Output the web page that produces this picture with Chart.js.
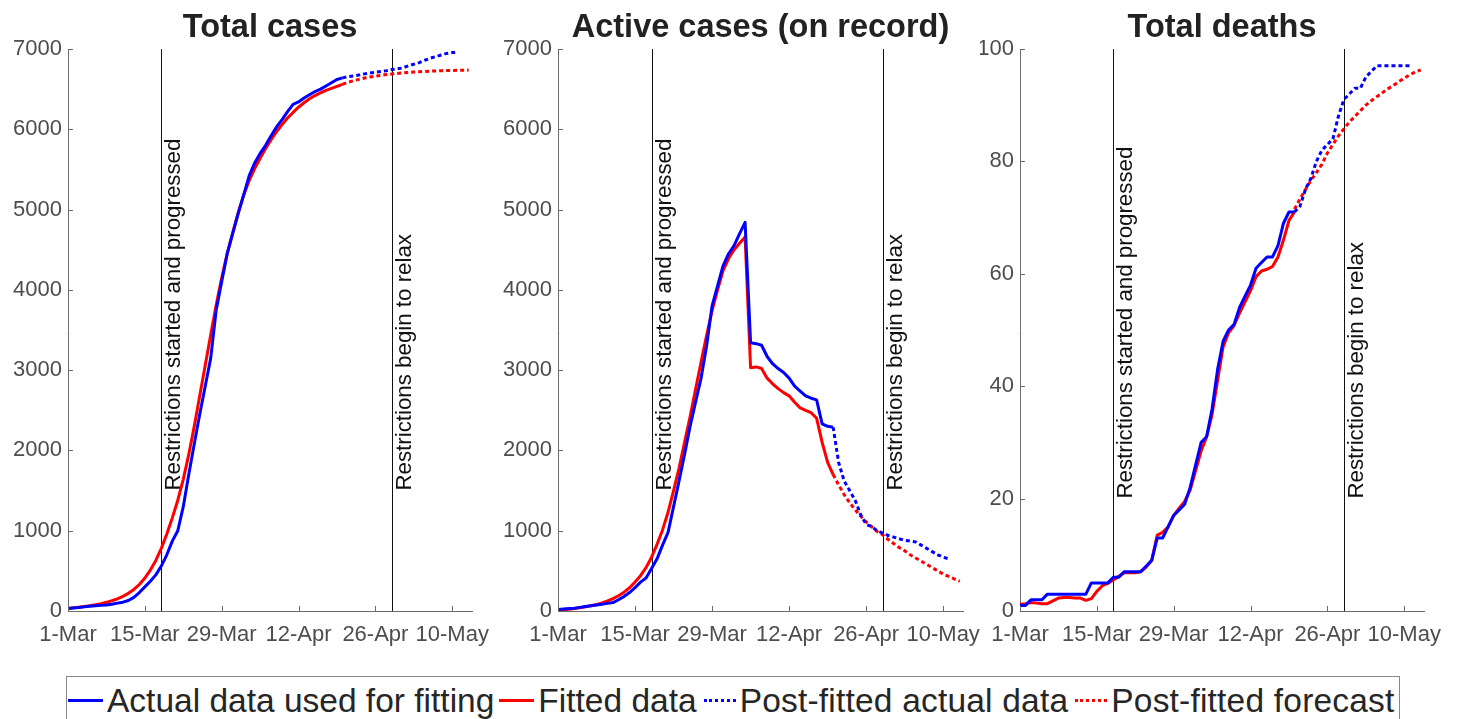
<!DOCTYPE html>
<html lang="en">
<head>
<meta charset="UTF-8">
<title>Cases, active cases and deaths</title>
<script src="https://cdn.jsdelivr.net/npm/chart.js@4.4.0/dist/chart.umd.min.js"></script>
<style>
body {
margin: 0;
background: #fff;
width: 1460px;
height: 719px;
overflow: hidden;
position: relative;
font-family: 'Liberation Sans', Arial, sans-serif;
}
.pane {
position: absolute;
top: 0;
height: 660px;
}
.legend {
position: absolute;
left: 66px;
top: 676px;
width: 1334px;
height: 60px;
border: 1px solid #8a8a8a;
box-sizing: border-box;
padding-top: 5px;
display: flex;
align-items: flex-start;
font-size: 33.5px;
line-height: 38px;
color: #262626;
white-space: nowrap;
}
.legend .wide {
letter-spacing: 0.2px;
}
.sample {
display: inline-block;
width: 35px;
margin: 17px 4px 0 1px;
border-top: 3px solid;
}
.sample.dot {
width: 32px;
border-top-style: dotted;
margin-left: 7px;
}
</style>
</head>
<body>
<div class="pane" style="left:0;width:490px"><canvas id="casesChart"></canvas></div>
<div class="pane" style="left:490px;width:490px"><canvas id="activeChart"></canvas></div>
<div class="pane" style="left:980px;width:480px"><canvas id="deathsChart"></canvas></div>
<div class="legend">
<span class="sample" style="color:#0000ff"></span><span>Actual data used for fitting</span>
<span class="sample" style="color:#ff0000;margin-left:5px"></span><span>Fitted data</span>
<span class="sample dot" style="color:#0000ff"></span><span class="wide">Post-fitted actual data</span>
<span class="sample dot" style="color:#ff0000"></span><span class="wide">Post-fitted forecast</span>
</div>
<script>
// x axis: days since 1-Mar
const tickDays = [0, 14, 28, 42, 56, 70];
const tickLabels = ['1-Mar', '15-Mar', '29-Mar', '12-Apr', '26-Apr', '10-May'];
const eventDays = [17, 59];
const eventLabels = ['Restrictions started and progressed', 'Restrictions begin to relax'];
const fitStart = 0;   // fitted window starts on day 0
const postStart = 50; // post-fit data starts on day 50 (20-Apr)

// Total cases
const casesActual = [30, 38, 45, 52, 58, 64, 70, 76, 85, 98,
  110, 130, 170, 230, 300, 370, 450, 560, 700, 870,
  1000, 1300, 1700, 2080, 2450, 2800, 3150, 3750, 4100, 4450,
  4700, 4950, 5180, 5420, 5580, 5700, 5800, 5920, 6030, 6120,
  6220, 6310, 6340, 6390, 6430, 6470, 6500, 6540, 6580, 6620, 6640];
const casesFitted = [30, 40, 48, 57, 67, 78, 92, 108, 128, 152,
  182, 220, 268, 330, 410, 510, 630, 780, 960, 1160,
  1380, 1640, 1950, 2300, 2680, 3060, 3440, 3810, 4150, 4450,
  4710, 4960, 5180, 5360, 5510, 5640, 5760, 5870, 5970, 6060,
  6140, 6210, 6275, 6330, 6380, 6420, 6455, 6485, 6510, 6535, 6560];
const casesPostActual = [6640, 6655, 6665, 6675, 6690, 6700, 6710, 6720, 6730, 6745, 6752,
  6765, 6790, 6810, 6830, 6860, 6885, 6905, 6925, 6945, 6955, 6960];
const casesForecast = [6560, 6585, 6605, 6622, 6638, 6651, 6662, 6672, 6681, 6689, 6696, 6702,
  6708, 6713, 6717, 6721, 6724, 6727, 6729, 6731, 6733, 6735, 6736, 6737];

// Active cases (on record)
const activeActual = [20, 25, 30, 35, 45, 55, 65, 75, 85, 95,
  105, 140, 180, 230, 290, 360, 410, 530, 650, 820,
  980, 1300, 1620, 1950, 2300, 2600, 2900, 3300, 3800, 4050,
  4300, 4450, 4550, 4700, 4840, 3340, 3330, 3310, 3170, 3080,
  3020, 2970, 2900, 2800, 2740, 2680, 2650, 2630, 2330, 2300, 2290];
const activeFitted = [10, 15, 22, 30, 40, 52, 65, 80, 100, 125,
  155, 190, 235, 290, 360, 440, 540, 670, 830, 1010,
  1230, 1500, 1780, 2100, 2420, 2760, 3100, 3430, 3740, 4000,
  4240, 4390, 4500, 4580, 4660, 3030, 3040, 3020, 2900, 2830,
  2770, 2720, 2680, 2600, 2530, 2500, 2470, 2400, 2100, 1850, 1700];
const activePostActual = [2290, 1850, 1620, 1500, 1380, 1200, 1080, 1050, 1000, 970, 940,
  920, 900, 880, 870, 860, 820, 780, 740, 700, 670, 650];
const activeForecast = [1700, 1570, 1450, 1350, 1260, 1180, 1110, 1050, 990, 950, 890, 840,
  790, 750, 700, 660, 620, 580, 540, 500, 460, 430, 400, 370];

// Total deaths
const deathsActual = [1, 1, 2, 2, 2, 3, 3, 3, 3, 3,
  3, 3, 3, 5, 5, 5, 5, 6, 6, 7,
  7, 7, 7, 8, 9, 13, 13, 15, 17, 18,
  19, 22, 26, 30, 31, 36, 43, 48, 50, 51,
  54, 56, 58, 61, 62, 63, 63, 65, 69, 71, 71];
const deathsFitted = [1.2, 1.3, 1.5, 1.4, 1.3, 1.3, 1.8, 2.3, 2.4, 2.4,
  2.3, 2.3, 1.9, 2.2, 3.5, 4.5, 4.9, 5.5, 6.2, 6.8,
  6.8, 6.8, 7.0, 7.8, 9.0, 13.5, 14.0, 15.0, 17.0, 18.3,
  19.5, 21.5, 25, 28.5, 31, 35, 41, 47, 49.5, 50.8,
  53, 55, 57, 59.5, 60.5, 60.8, 61.3, 63, 66, 69.5, 71];
const deathsPostActual = [71, 72, 75, 77, 80, 82, 83, 84, 88, 91, 92,
  93, 93, 95, 96, 97, 97, 97, 97, 97, 97, 97];
const deathsForecast = [71.5, 73.3, 75, 76.6, 78, 79.5, 81.5, 83, 84.5, 85.8, 87, 88,
  89, 90, 90.8, 91.5, 92.2, 92.9, 93.5, 94.2, 94.8, 95.4, 95.9, 96.3];

const FONT = "'Liberation Sans', Arial, sans-serif";
const AXIS = '#6b6b6b';
Chart.defaults.font.family = FONT;

function toPoints(start, values) {
  return values.map((v, i) => ({x: start + i, y: v}));
}

// title centred over the plot area
const plotTitle = {
  id: 'plotTitle',
  afterDraw(chart, args, opts) {
    const {ctx, chartArea: a} = chart;
    ctx.save();
    ctx.font = 'bold 32.5px ' + FONT;
    ctx.fillStyle = '#222';
    ctx.textAlign = 'center';
    ctx.textBaseline = 'alphabetic';
    ctx.fillText(opts.text, (a.left + a.right) / 2, a.top - 12);
    ctx.restore();
  }
};

// vertical event lines with rotated labels
const eventLines = {
  id: 'eventLines',
  beforeDatasetsDraw(chart, args, opts) {
    const {ctx, chartArea: a, scales: {x, y}} = chart;
    ctx.save();
    ctx.strokeStyle = '#111';
    ctx.lineWidth = 1;
    ctx.fillStyle = '#111';
    ctx.font = '22.3px ' + FONT;
    eventDays.forEach((d, i) => {
      const px = Math.round(x.getPixelForValue(d)) + 0.5;
      ctx.beginPath();
      ctx.moveTo(px, a.top);
      ctx.lineTo(px, a.bottom);
      ctx.stroke();
      ctx.save();
      ctx.translate(px + 1, y.getPixelForValue(opts.labelY));
      ctx.rotate(-Math.PI / 2);
      ctx.textAlign = 'left';
      ctx.textBaseline = 'top';
      ctx.fillText(eventLabels[i], 0, 0);
      ctx.restore();
    });
    ctx.restore();
  }
};

// MATLAB style ticks pointing into the plot
const inwardTicks = {
  id: 'inwardTicks',
  afterDraw(chart) {
    const {ctx, chartArea: a, scales: {x, y}} = chart;
    ctx.save();
    ctx.strokeStyle = AXIS;
    ctx.lineWidth = 1;
    ctx.beginPath();
    x.ticks.forEach(t => {
      const px = Math.round(x.getPixelForValue(t.value)) + 0.5;
      ctx.moveTo(px, a.bottom);
      ctx.lineTo(px, a.bottom - 5);
    });
    y.ticks.forEach(t => {
      const py = Math.round(y.getPixelForValue(t.value)) + 0.5;
      ctx.moveTo(a.left, py);
      ctx.lineTo(a.left + 5, py);
    });
    ctx.stroke();
    ctx.restore();
  }
};

function lineSet(label, data, color, dotted) {
  return {
    label: label,
    data: data,
    borderColor: color,
    borderWidth: 3,
    borderDash: dotted ? [4, 3] : [],
    borderJoinStyle: 'round',
    pointRadius: 0,
    tension: 0,
    fill: false
  };
}

function createChart(canvasId, title, series, yMax, yStep, labelY, yWidth, padRight) {
  const ctx = document.getElementById(canvasId).getContext('2d');
  return new Chart(ctx, {
    type: 'line',
    data: {
      datasets: [
        lineSet('Actual data used for fitting', toPoints(fitStart, series[0]), '#0000ff', false),
        lineSet('Fitted data', toPoints(fitStart, series[1]), '#ff0000', false),
        lineSet('Post-fitted actual data', toPoints(postStart, series[2]), '#0000ff', true),
        lineSet('Post-fitted forecast', toPoints(postStart, series[3]), '#ff0000', true)
      ]
    },
    options: {
      responsive: true,
      maintainAspectRatio: false,
      animation: false,
      layout: {padding: {left: 0, top: 49, right: padRight, bottom: 0}},
      plugins: {
        legend: {display: false},
        tooltip: {enabled: false},
        plotTitle: {text: title},
        eventLines: {labelY: labelY}
      },
      scales: {
        x: {
          type: 'linear',
          min: 0,
          max: 73.6,
          grid: {display: false, drawTicks: false},
          border: {display: true, color: AXIS, width: 1},
          afterBuildTicks: s => { s.ticks = tickDays.map(v => ({value: v})); },
          afterFit: s => { s.height = 49; s.paddingLeft = 0; s.paddingRight = 0; },
          ticks: {
            autoSkip: false,
            maxRotation: 0,
            minRotation: 0,
            padding: 11,
            color: '#4d4d4d',
            font: {size: 22},
            callback: v => tickLabels[tickDays.indexOf(v)]
          }
        },
        y: {
          min: 0,
          max: yMax,
          grid: {display: false, drawTicks: false},
          border: {display: true, color: AXIS, width: 1},
          afterFit: s => { s.width = yWidth; s.paddingTop = 0; s.paddingBottom = 0; },
          ticks: {
            stepSize: yStep,
            padding: 6,
            color: '#4d4d4d',
            font: {size: 22},
            callback: v => String(v)
          }
        }
      }
    },
    plugins: [eventLines, inwardTicks, plotTitle]
  });
}

createChart('casesChart', 'Total cases',
  [casesActual, casesFitted, casesPostActual, casesForecast], 7000, 1000, 1500, 68, 18);
createChart('activeChart', 'Active cases (on record)',
  [activeActual, activeFitted, activePostActual, activeForecast], 7000, 1000, 1500, 68, 17);
createChart('deathsChart', 'Total deaths',
  [deathsActual, deathsFitted, deathsPostActual, deathsForecast], 100, 20, 20, 40, 36);
</script>
</body>
</html>
